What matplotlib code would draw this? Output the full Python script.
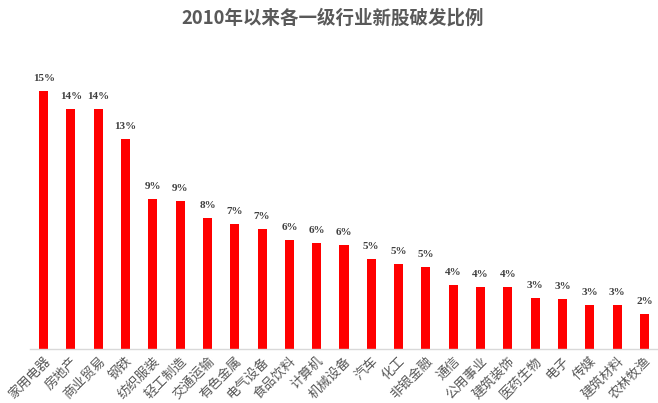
import matplotlib
matplotlib.use('Agg')
import matplotlib.pyplot as plt
import numpy as np

plt.rcParams['font.family'] = ['Noto Sans CJK SC', 'DejaVu Sans']

title = '2010年以来各一级行业新股破发比例'
industries = ['家用电器', '房地产', '商业贸易', '钢铁', '纺织服装', '轻工制造', '交通运输',
              '有色金属', '电气设备', '食品饮料', '计算机', '机械设备', '汽车', '化工',
              '非银金融', '通信', '公用事业', '建筑装饰', '医药生物', '电子', '传媒',
              '建筑材料', '农林牧渔']
# break ratio
ratio = [0.1538, 0.1430, 0.1430, 0.1251, 0.0894, 0.0882, 0.0781,
         0.0745, 0.0715, 0.0649, 0.0632, 0.0620, 0.0536, 0.0507,
         0.0489, 0.0383, 0.0369, 0.0369, 0.0304, 0.0298, 0.0262,
         0.0262, 0.0209]

fig = plt.figure(figsize=(6.58, 4.03), dpi=100)
ax = fig.add_axes([0.0456, 0.134, 0.9544, 0.708])

x = np.arange(len(industries))
bars = ax.bar(x, ratio, width=0.33, color='#ff0000', zorder=2)

for xi, v in zip(x, ratio):
    ax.annotate('{:.0%}'.format(v), (xi, v), xytext=(0, 5.5), textcoords='offset points',
                ha='center', va='bottom', fontsize=8, fontweight='bold',
                family=['Liberation Serif'], color='#404040')

ax.set_xlim(-0.5, len(industries) - 0.5)
ax.set_ylim(0, 0.17)
ax.set_yticks([])
ax.set_xticks(x)
ax.set_xticklabels(industries, rotation=45, ha='right', va='top',
                   rotation_mode='anchor', fontsize=9.5, color='#595959')
ax.tick_params(axis='x', length=0, pad=4)
for sp in ['top', 'right', 'left']:
    ax.spines[sp].set_visible(False)
ax.spines['bottom'].set_color('#d9d9d9')
ax.spines['bottom'].set_linewidth(1)

fig.text(0.506, 1 - 18.5 / 403, title, ha='center', va='center', fontsize=13.3,
         fontweight='bold', color='#595959')

fig.savefig('out.png', dpi=100)
